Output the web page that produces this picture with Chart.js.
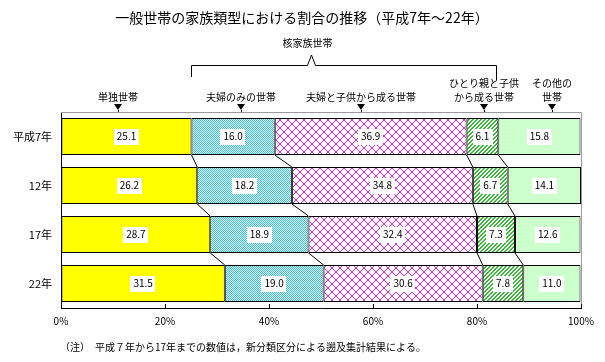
<!DOCTYPE html>
<html>
<head>
<meta charset="utf-8">
<script src="https://cdn.jsdelivr.net/npm/chart.js@4/dist/chart.umd.min.js"></script>
<style>
  html, body { margin: 0; padding: 0; background: #fff; }
  canvas { display: block; }
</style>
</head>
<body>
<canvas id="chart" width="605" height="362"></canvas>
<script>
// data
const categories = ['平成7年', '12年', '17年', '22年'];
const seriesNames = ['単独世帯', '夫婦のみの世帯', '夫婦と子供から成る世帯', 'ひとり親と子供から成る世帯', 'その他の世帯'];
const tandoku = [25.1, 26.2, 28.7, 31.5];
const fufuNomi = [16.0, 18.2, 18.9, 19.0];
const fufuKodomo = [36.9, 34.8, 32.4, 30.6];
const hitorioya = [6.1, 6.7, 7.3, 7.8];
const sonota = [15.8, 14.1, 12.6, 11.0];
const xTicks = [0, 20, 40, 60, 80, 100];

const FONT = '"Noto Sans CJK JP", "Noto Sans", sans-serif';

// small tiles for the hatched fills
function makePattern(size, bg, fg, pixels) {
    const tile = document.createElement('canvas');
    tile.width = size;
    tile.height = size;
    const c = tile.getContext('2d');
    c.fillStyle = bg;
    c.fillRect(0, 0, size, size);
    c.fillStyle = fg;
    pixels.forEach(([x, y]) => c.fillRect(x, y, 1, 1));
    return c.createPattern(tile, 'repeat');
}

const cyanDots = makePattern(2, '#ffffff', '#22c4ec', [[0, 0], [1, 1]]);
const diamondPixels = [];
for (let i = 0; i < 8; i++) {
    diamondPixels.push([i, i], [i, 7 - i]);
}
const pinkDiamonds = makePattern(8, '#fff4ff', '#c837c8', diamondPixels);
const greenStripes = makePattern(4, '#ffffff', '#33bb33', [[0, 3], [1, 2], [2, 1], [3, 0], [1, 3], [2, 2], [3, 1], [0, 0]]);

const fills = ['#ffff00', cyanDots, pinkDiamonds, greenStripes, '#ccffcc'];
const values = [tandoku, fufuNomi, fufuKodomo, hitorioya, sonota];

// headers above the plot: x in percent of the axis, text lines
const headers = [
    { at: 11.0, lines: ['単独世帯'] },
    { at: 34.6, lines: ['夫婦のみの世帯'] },
    { at: 57.7, lines: ['夫婦と子供から成る世帯'] },
    { at: 81.3, lines: ['ひとり親と子供', 'から成る世帯'] },
    { at: 94.4, lines: ['その他の', '世帯'] }
];

const decorPlugin = {
    id: 'decor',
    beforeDatasetsDraw(chart) {
        const { ctx, chartArea: a } = chart;
        ctx.save();
        // gray plot frame (top and right)
        ctx.strokeStyle = '#9a9a9a';
        ctx.lineWidth = 1;
        ctx.beginPath();
        ctx.moveTo(a.left, a.top + 0.5);
        ctx.lineTo(a.right + 0.5, a.top + 0.5);
        ctx.lineTo(a.right + 0.5, a.bottom);
        ctx.stroke();

        // series lines between bars
        ctx.strokeStyle = '#000';
        for (let d = 0; d < values.length - 1; d++) {
            const bars = chart.getDatasetMeta(d).data;
            for (let i = 0; i < bars.length - 1; i++) {
                const up = bars[i], down = bars[i + 1];
                ctx.beginPath();
                ctx.moveTo(up.x, up.y + up.height / 2);
                ctx.lineTo(down.x, down.y - down.height / 2);
                ctx.stroke();
            }
        }
        ctx.restore();
    },
    afterDraw(chart) {
        const { ctx, chartArea: a } = chart;
        const xs = chart.scales.x;
        ctx.save();

        // title
        ctx.fillStyle = '#000';
        ctx.font = '14px ' + FONT;
        ctx.textAlign = 'center';
        ctx.textBaseline = 'middle';
        ctx.fillText('一般世帯の家族類型における割合の推移（平成7年～22年）', 302, 18);

        // inside tick marks on x axis
        ctx.strokeStyle = '#000';
        ctx.lineWidth = 1;
        xTicks.forEach(v => {
            const x = Math.round(xs.getPixelForValue(v)) + 0.5;
            ctx.beginPath();
            ctx.moveTo(x, a.bottom);
            ctx.lineTo(x, a.bottom - 4);
            ctx.stroke();
        });

        // data labels in white boxes
        ctx.font = '10px ' + FONT;
        values.forEach((arr, d) => {
            chart.getDatasetMeta(d).data.forEach((bar, i) => {
                const txt = arr[i].toFixed(1);
                const cx = (bar.x + bar.base) / 2;
                const w = ctx.measureText(txt).width + 6;
                ctx.fillStyle = '#fff';
                ctx.fillRect(Math.round(cx - w / 2), Math.round(bar.y - 8), Math.round(w), 16);
                ctx.fillStyle = '#000';
                ctx.fillText(txt, cx, bar.y);
            });
        });

        // column headers with arrows
        ctx.font = '10px ' + FONT;
        headers.forEach(h => {
            const x = Math.round(xs.getPixelForValue(h.at));
            h.lines.forEach((line, k) => {
                const y = 97 - (h.lines.length - 1 - k) * 14;
                ctx.fillText(line, x, y);
            });
            ctx.beginPath();
            ctx.moveTo(x - 4, 104);
            ctx.lineTo(x + 4, 104);
            ctx.lineTo(x, 110);
            ctx.closePath();
            ctx.fill();
            ctx.beginPath();
            ctx.moveTo(x + 0.5, 110);
            ctx.lineTo(x + 0.5, a.top);
            ctx.stroke();
        });

        // bracket for nuclear families
        const bl = Math.round(xs.getPixelForValue(25.0)) + 0.5;
        const br = Math.round(xs.getPixelForValue(83.7)) + 0.5;
        const bm = Math.round(xs.getPixelForValue(48.1)) + 0.5;
        ctx.beginPath();
        ctx.moveTo(bl, 77);
        ctx.lineTo(bl, 65.5);
        ctx.lineTo(bm - 4, 65.5);
        ctx.lineTo(bm, 55);
        ctx.lineTo(bm + 4, 65.5);
        ctx.lineTo(br, 65.5);
        ctx.lineTo(br, 80);
        ctx.stroke();
        ctx.fillText('核家族世帯', bm - 4, 43);

        // note
        ctx.textAlign = 'left';
        ctx.fillText('（注）　平成７年から17年までの数値は，新分類区分による遡及集計結果による。', 60, 347);
        ctx.restore();
    }
};

new Chart(document.getElementById('chart'), {
    type: 'bar',
    data: {
        labels: categories,
        datasets: values.map((arr, d) => ({
            label: seriesNames[d],
            data: arr,
            backgroundColor: fills[d],
            borderColor: '#000',
            borderWidth: 1,
            borderSkipped: false,
            categoryPercentage: 1,
            barPercentage: 0.755
        }))
    },
    options: {
        indexAxis: 'y',
        responsive: false,
        animation: false,
        devicePixelRatio: 1,
        layout: { padding: { top: 112, right: 24, bottom: 30, left: 0 } },
        plugins: {
            legend: { display: false },
            tooltip: { enabled: false },
            title: { display: false }
        },
        scales: {
            x: {
                stacked: true,
                min: 0,
                max: 100,
                afterBuildTicks: s => { s.ticks = xTicks.map(v => ({ value: v })); },
                afterFit: s => { s.height = 24; },
                ticks: {
                    callback: v => v + '%',
                    color: '#000',
                    font: { family: FONT, size: 10 },
                    padding: 7,
                    maxRotation: 0
                },
                grid: { drawOnChartArea: false, drawTicks: false },
                border: { color: '#000', width: 1 }
            },
            y: {
                stacked: true,
                afterFit: s => { s.width = 61; },
                ticks: {
                    color: '#000',
                    font: { family: FONT, size: 11 },
                    padding: 9
                },
                grid: { drawOnChartArea: false, drawTicks: false },
                border: { color: '#000', width: 1 }
            }
        }
    },
    plugins: [decorPlugin]
});
</script>
</body>
</html>
